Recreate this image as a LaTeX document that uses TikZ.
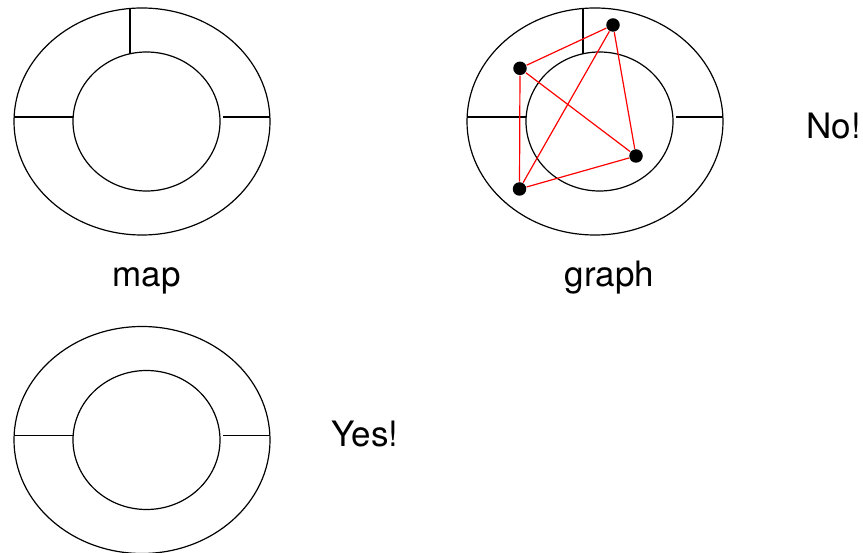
\documentclass[tikz,border=0pt]{standalone}
\usepackage{fontspec}
\setmainfont{TeX Gyre Heros}
\begin{document}
\begin{tikzpicture}[x=1pt,y=-1pt,line width=1.2pt,
  vertex/.style={circle,fill,inner sep=0pt,minimum size=13.5pt},
  edge/.style={red,line width=1.2pt},
  word/.style={font=\fontsize{35}{42}\selectfont,inner sep=0pt,anchor=base}]
  \useasboundingbox (0,0) rectangle (863,553);

  % map
  \draw (142,121.5) ellipse [x radius=128pt, y radius=113.5pt];
  \draw (146.5,121.5) ellipse [x radius=73.5pt, y radius=69.5pt];
  \draw (130,8.5) -- (130,53.8);
  \draw (14.1,117) -- (73.2,117);
  \draw (223,117) -- (270,117);
  \node[word] (map) at (146.7,287) {map};

  % graph
  \begin{scope}[xshift=453pt]
    \draw (142,121.5) ellipse [x radius=128pt, y radius=113.5pt];
    \draw (146.5,121.5) ellipse [x radius=73.5pt, y radius=69.5pt];
    \draw (130,8.5) -- (130,53.8);
    \draw (14.1,117) -- (73.2,117);
    \draw (223,117) -- (270,117);
  \end{scope}
  \node[vertex] (top) at (613,25) {};
  \node[vertex] (left) at (520,68.3) {};
  \node[vertex] (right) at (636,156) {};
  \node[vertex] (bottom) at (519.5,189) {};
  \draw[edge] (top) -- (left) -- (bottom) -- (right) -- (top) -- (bottom);
  \draw[edge] (left) -- (right);
  \node[word] (graph) at (609.5,287) {graph};
  \node[word] (no) at (833.5,139) {No!};

  % only the map
  \begin{scope}[yshift=-318.5pt]
    \draw (142,121.5) ellipse [x radius=128pt, y radius=113.5pt];
    \draw (146.5,121.5) ellipse [x radius=73.5pt, y radius=69.5pt];
    \draw (14.1,117) -- (73.2,117);
    \draw (223,117) -- (270,117);
  \end{scope}
  \node[word] (yes) at (365,446.7) {Yes!};
\end{tikzpicture}
\end{document}
